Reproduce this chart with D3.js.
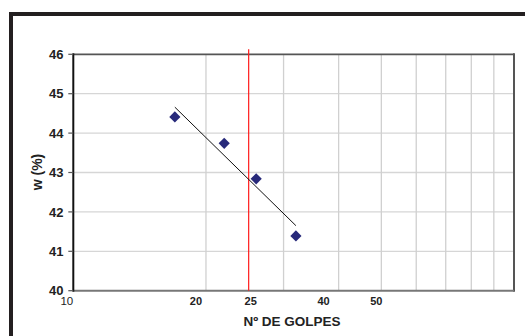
<!DOCTYPE html>
<html><head><meta charset="utf-8">
<script src="https://cdn.jsdelivr.net/npm/d3@7"></script>
<style>
html,body{margin:0;padding:0;background:#fff;}
svg{display:block;}
</style></head>
<body>
<script>
// Data
const golpes = [17, 22, 26, 32];
const humedad = [44.41, 43.74, 42.84, 41.39];
const yTicks = [40, 41, 42, 43, 44, 45, 46];
const xGrid = [20, 30, 40, 50, 60, 70, 80, 90];
const xTickLabels = ["10", "20", "25", "40", "50"];
const xTickValues = [10, 20, 25, 40, 50];
const refGolpes = 25;
const xTitle = "Nº DE GOLPES";
const yTitle = "w (%)";

const W = 525, H = 336;
const L = 73.3, R = 514, T = 54.3, B = 290.7;

const svg = d3.select("body").append("svg").attr("width", W).attr("height", H);

// outer frame (top and left bars)
svg.append("rect").attr("x", 9).attr("y", 12).attr("width", W - 9).attr("height", 4).attr("fill", "#231f20");
svg.append("rect").attr("x", 9).attr("y", 12).attr("width", 4).attr("height", H - 12).attr("fill", "#231f20");

const x = d3.scaleLog().domain([10, 100]).range([L, R]);
const y = d3.scaleLinear().domain([40, 46]).range([B, T]);

// grid
svg.append("g").selectAll("line").data(yTicks.filter(d => d > 40 && d < 46)).join("line")
  .attr("x1", L).attr("x2", R).attr("y1", d => y(d)).attr("y2", d => y(d))
  .attr("stroke", "#d6d6d6").attr("stroke-width", 1.3);
svg.append("g").selectAll("line").data(xGrid).join("line")
  .attr("x1", d => x(d)).attr("x2", d => x(d)).attr("y1", T).attr("y2", B)
  .attr("stroke", "#d0d0d0").attr("stroke-width", 1.3);

// borders
svg.append("line").attr("x1", L).attr("x2", R).attr("y1", T).attr("y2", T).attr("stroke", "#555").attr("stroke-width", 1.8);
svg.append("line").attr("x1", R).attr("x2", R).attr("y1", T - 1).attr("y2", B + 1).attr("stroke", "#555").attr("stroke-width", 2);
svg.append("line").attr("x1", L).attr("x2", R).attr("y1", B).attr("y2", B).attr("stroke", "#777").attr("stroke-width", 2);
svg.append("line").attr("x1", L).attr("x2", L).attr("y1", T - 1).attr("y2", B + 1).attr("stroke", "#111").attr("stroke-width", 2);

// y ticks and labels
svg.append("g").selectAll("line").data(yTicks).join("line")
  .attr("x1", L - 5).attr("x2", L).attr("y1", d => y(d)).attr("y2", d => y(d))
  .attr("stroke", "#555").attr("stroke-width", 1.2);
svg.append("g").selectAll("text").data(yTicks).join("text")
  .attr("x", 63.5).attr("y", d => y(d)).attr("dy", "0.36em")
  .attr("text-anchor", "end")
  .attr("font-family", "Liberation Sans, Arial, sans-serif").attr("font-weight", "bold")
  .attr("font-size", 13).attr("fill", "#222").text(d => d);

// x labels (manually offset like the original text boxes)
const xLabelDx = [-6.5, -10, 2, -15, -5];
svg.append("g").selectAll("text").data(xTickValues).join("text")
  .attr("x", (d, i) => x(d) + xLabelDx[i]).attr("y", 305)
  .attr("text-anchor", "middle")
  .attr("font-family", "Liberation Sans, Arial, sans-serif")
  .attr("font-weight", (d, i) => i === 0 ? "normal" : "bold")
  .attr("font-size", (d, i) => i === 0 ? 11.5 : 11).attr("fill", "#222")
  .text((d, i) => xTickLabels[i]);

// red reference line
svg.append("line").attr("x1", x(refGolpes)).attr("x2", x(refGolpes)).attr("y1", T - 5).attr("y2", B)
  .attr("stroke", "#ff1a1a").attr("stroke-width", 1.2);

// trend line: least squares of w vs log10(N)
const lx = golpes.map(Math.log10);
const mx = d3.mean(lx), my = d3.mean(humedad);
const slope = d3.sum(lx.map((v, i) => (v - mx) * (humedad[i] - my))) / d3.sum(lx.map(v => (v - mx) ** 2));
const icpt = my - slope * mx;
const xs = d3.extent(golpes);
svg.append("line")
  .attr("x1", x(xs[0])).attr("y1", y(icpt + slope * Math.log10(xs[0])))
  .attr("x2", x(xs[1])).attr("y2", y(icpt + slope * Math.log10(xs[1])))
  .attr("stroke", "#111").attr("stroke-width", 1);

// diamonds
const s = 5.6;
svg.append("g").selectAll("path").data(golpes).join("path")
  .attr("transform", (d, i) => `translate(${x(d)},${y(humedad[i])})`)
  .attr("d", `M0,${-s}L${s},0L0,${s}L${-s},0Z`)
  .attr("fill", "#27297a");

// titles
svg.append("text").attr("x", 292).attr("y", 326).attr("text-anchor", "middle")
  .attr("font-family", "Liberation Sans, Arial, sans-serif").attr("font-weight", "bold")
  .attr("font-size", 13.5).attr("fill", "#222").text(xTitle);
svg.append("text").attr("transform", "translate(42,172) rotate(-90)").attr("text-anchor", "middle")
  .attr("font-family", "Liberation Sans, Arial, sans-serif").attr("font-weight", "bold")
  .attr("font-size", 14).attr("fill", "#222").text(yTitle);
</script>
</body></html>
